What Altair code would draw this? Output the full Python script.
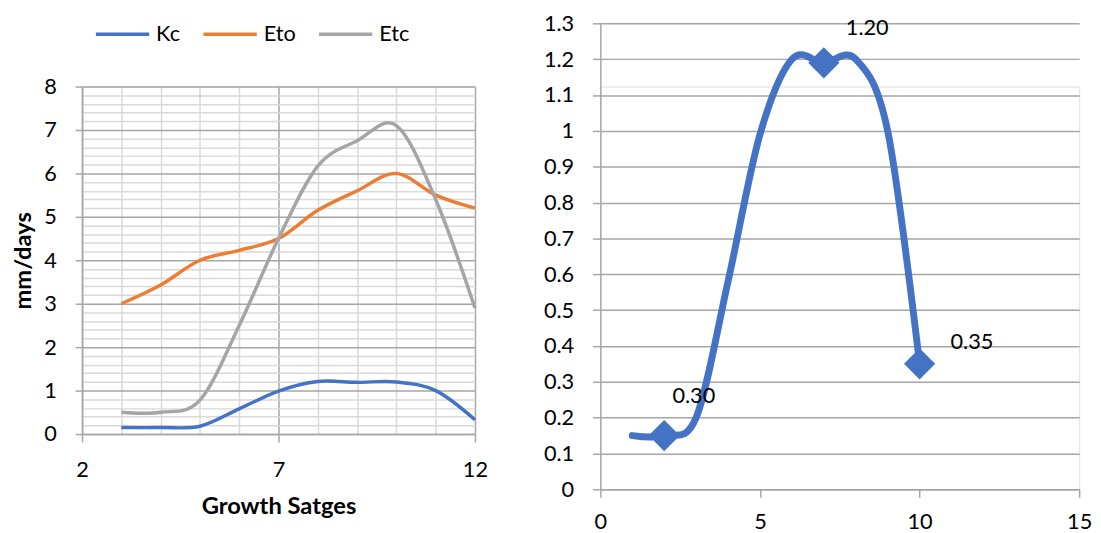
import altair as alt
import pandas as pd

# ---------------- data ----------------
stages = [3, 4, 5, 6, 7, 8, 9, 10, 11, 12]
kc = [0.15, 0.15, 0.18, 0.58, 0.99, 1.21, 1.19, 1.2, 1.0, 0.33]
eto = [3.0, 3.43, 4.0, 4.23, 4.5, 5.15, 5.6, 6.0, 5.5, 5.2]
etc = [0.5, 0.5, 0.78, 2.5, 4.5, 6.17, 6.75, 7.1, 5.4, 2.9]
series_names = ["Kc", "Eto", "Etc"]
series_colors = ["#4472C4", "#ED7D31", "#A5A5A5"]

left_x_ticks = [2, 3, 4, 5, 6, 7, 8, 9, 10, 11, 12]
left_y_ticks = [0, 0.2, 0.4, 0.6, 0.8, 1, 1.2, 1.4, 1.6, 1.8, 2, 2.2, 2.4, 2.6, 2.8,
                3, 3.2, 3.4, 3.6, 3.8, 4, 4.2, 4.4, 4.6, 4.8, 5, 5.2, 5.4, 5.6, 5.8,
                6, 6.2, 6.4, 6.6, 6.8, 7, 7.2, 7.4, 7.6, 7.8, 8]

kc_x = [1, 2, 3, 4, 5, 6, 7, 8, 9, 10]
kc_y = [0.15, 0.15, 0.2, 0.58, 0.99, 1.2, 1.19, 1.2, 1.0, 0.35]
marker_x = [2, 7, 10]
marker_label = ["0.30", "1.20", "0.35"]

right_x_ticks = [0, 5, 10, 15]
right_y_ticks = [0, 0.1, 0.2, 0.3, 0.4, 0.5, 0.6, 0.7, 0.8, 0.9, 1, 1.1, 1.2, 1.3]

FONT = "Lato"
GRID_MAJOR = "#A6A6A6"
GRID_MINOR = "#D9D9D9"

# ---------------- left chart ----------------
rows = []
for name, vals in zip(series_names, [kc, eto, etc]):
    for s, v in zip(stages, vals):
        rows.append({"stage": s, "value": v, "series": name})
df_left = pd.DataFrame(rows)

is_int = "abs(datum.value - round(datum.value)) < 0.001"
is_major_x = "indexof([2, 7, 12], datum.value) >= 0"

left = alt.Chart(df_left).mark_line(interpolate="cardinal", strokeWidth=3.5).encode(
    x=alt.X("stage:Q",
            scale=alt.Scale(domain=[2, 12], nice=False, zero=False),
            axis=alt.Axis(values=left_x_ticks, title="Growth Satges",
                          grid=True, labelFlush=False, labelOverlap=False,
                          gridColor={"condition": {"test": is_major_x, "value": GRID_MAJOR}, "value": GRID_MINOR},
                          gridWidth=1.5,
                          tickOpacity={"condition": {"test": is_major_x, "value": 1}, "value": 0},
                          labelExpr=f"{is_major_x} ? datum.label : ''",
                          tickSize=8, tickColor=GRID_MAJOR, tickWidth=1.5,
                          domainColor=GRID_MAJOR, domainWidth=1.5,
                          labelFontSize=22, labelPadding=18, labelFont=FONT,
                          labelColor="black",
                          titleFontSize=24, titleFontWeight="bold", titleFont=FONT,
                          titleColor="black", titlePadding=14)),
    y=alt.Y("value:Q",
            scale=alt.Scale(domain=[0, 8], nice=False),
            axis=alt.Axis(values=left_y_ticks, title="mm/days",
                          grid=True, labelOverlap=False,
                          gridColor={"condition": {"test": is_int, "value": GRID_MAJOR}, "value": GRID_MINOR},
                          gridWidth=1.5,
                          tickOpacity={"condition": {"test": is_int, "value": 1}, "value": 0},
                          labelExpr=f"{is_int} ? toString(round(datum.value)) : ''",
                          tickSize=7, tickColor=GRID_MAJOR, tickWidth=1.5,
                          domainColor=GRID_MAJOR, domainWidth=1.5,
                          labelFontSize=22, labelPadding=19, labelFont=FONT,
                          labelColor="black",
                          titleFontSize=24, titleFontWeight="bold", titleFont=FONT,
                          titleColor="black", titlePadding=8)),
    color=alt.Color("series:N",
                    scale=alt.Scale(domain=series_names, range=series_colors),
                    legend=alt.Legend(title=None, orient="none", direction="horizontal",
                                      legendX=29, legendY=-65, padding=0,
                                      symbolType="M-2.7,0H2.7", symbolSize=400,
                                      symbolStrokeWidth=3.5, symbolFillColor="transparent",
                                      labelFontSize=22, labelFont=FONT, labelColor="black",
                                      labelOffset=22, columnPadding=16)),
).properties(width=398, height=352)

# ---------------- right chart ----------------
RIGHT_H = 408   # panel height; plot extends 64 px above the panel origin
RIGHT_TOP = -64

df_right = pd.DataFrame({"x": kc_x, "y": kc_y})
df_mark = df_right[df_right["x"].isin(marker_x)].copy()
df_mark["label"] = marker_label

base_x = alt.X("x:Q", scale=alt.Scale(domain=[0, 15], nice=False),
               axis=alt.Axis(values=right_x_ticks, title=None, grid=False,
                             labelFlush=False, labelOverlap=False,
                             tickSize=8, tickColor=GRID_MAJOR, tickWidth=1.5,
                             domainColor=GRID_MAJOR, domainWidth=1.5,
                             labelFontSize=22, labelFont=FONT, labelColor="black",
                             labelPadding=15))
base_y = alt.Y("y:Q", scale=alt.Scale(domain=[0, 1.3], nice=False, range=[RIGHT_H, RIGHT_TOP]),
               axis=alt.Axis(values=right_y_ticks, title=None, grid=True,
                             labelOverlap=False,
                             gridColor=GRID_MAJOR, gridWidth=1.5,
                             format="~g",
                             tickSize=8, tickColor=GRID_MAJOR, tickWidth=1.5,
                             domainColor=GRID_MAJOR, domainWidth=1.5,
                             labelFontSize=22, labelFont=FONT, labelColor="black",
                             labelPadding=19))

r_line = alt.Chart(df_right).mark_line(
    interpolate="cardinal", strokeWidth=7, color="#4472C4", strokeCap="round"
).encode(x=base_x, y=base_y)

r_pts = alt.Chart(df_mark).mark_point(
    shape="diamond", filled=True, size=1000, color="#4472C4", opacity=1
).encode(x=base_x, y=base_y)

offsets = [(30, -40), (44, -35), (53, -22)]
text_layers = []
for lab, (dx, dy) in zip(marker_label, offsets):
    text_layers.append(
        alt.Chart(df_mark).transform_filter(alt.datum.label == lab).mark_text(
            fontSize=22, font=FONT, color="black", dx=dx, dy=dy
        ).encode(x=base_x, y=base_y, text="label:N")
    )

right = alt.layer(r_line, r_pts, *text_layers).properties(width=485, height=RIGHT_H)

chart = alt.hconcat(left, right, spacing=54).properties(
    padding={"left": 3, "top": 0, "right": 0, "bottom": 0}
).configure_view(stroke=None).configure(font=FONT)

chart.save("out.html", embed_options={"renderer": "svg", "actions": False})
